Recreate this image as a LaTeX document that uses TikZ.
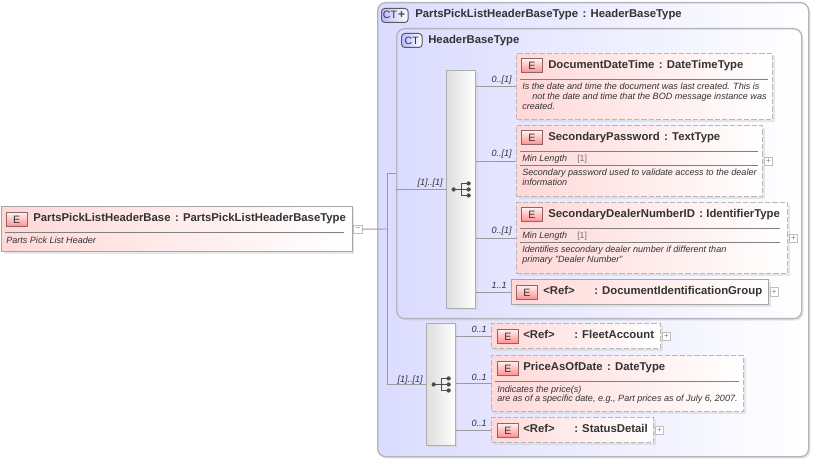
\documentclass[tikz,border=0pt]{standalone}
\usepackage{fontspec}
\setmainfont{Liberation Sans}
\usepackage{xcolor}
\usepackage{tikz}
\usetikzlibrary{calc}
\usetikzlibrary{shadows}
\definecolor{elpink}{HTML}{FFD8D8}
\definecolor{ctblue}{HTML}{DBDBFF}
\definecolor{framegray}{HTML}{B4B4BE}
\definecolor{inkgray}{HTML}{333333}
\definecolor{linegray}{HTML}{9A9A9A}
\tikzset{
  boxshadow/.style={drop shadow={shadow xshift=1.5pt, shadow yshift=-1.5pt, fill=black!18}},
  ctframe/.style={draw=framegray, line width=1pt, rounded corners=6pt, left color=ctblue, right color=white, boxshadow, inner sep=0pt, anchor=north west},
  elfirm/.style={draw=black!35, line width=0.8pt, left color=elpink, right color=white, boxshadow, inner sep=0pt, anchor=north west},
  elopt/.style={elfirm, draw=black!28, line width=1pt, dash pattern=on 4pt off 1.5pt},
  seqblock/.style={draw=linegray!80, line width=0.7pt, left color=black!13, right color=white, boxshadow, inner sep=0pt, anchor=north west},
  ebadge/.style={draw=red!25!black!60, line width=0.7pt, bottom color=red!45!white, top color=red!6!white, minimum width=15.5pt, minimum height=10.5pt, inner sep=0pt, font=\fontsize{8}{8}\selectfont, text=inkgray, anchor=north west},
  ctbadge/.style={draw=black!65, line width=0.7pt, rounded corners=2.5pt, left color=ctblue!85!blue, right color=white, minimum height=10.5pt, inner sep=0pt, font=\fontsize{8}{8}\selectfont, text=inkgray, anchor=north west},
  eltitle/.style={inner sep=0pt, anchor=base west, text=inkgray, font=\fontsize{8.5}{10}\selectfont\bfseries},
  eldescr/.style={inner sep=0pt, anchor=base west, text=inkgray, align=left, font=\fontsize{6.8}{7.5}\selectfont\itshape},
  facetval/.style={inner sep=0pt, anchor=base west, text=black!55, font=\fontsize{6.6}{7.5}\selectfont},
  cardlabel/.style={inner sep=0pt, anchor=base east, text=inkgray, font=\fontsize{6.8}{7.5}\selectfont\itshape},
  togglebox/.style={draw=black!25, fill=white, line width=0.5pt, minimum size=6.3pt, inner sep=0pt, anchor=west, xshift=0.5pt, text=black!50, font=\fontsize{6}{6}\selectfont},
  conn/.style={draw=linegray, line width=0.7pt},
  sepline/.style={draw=black!50, line width=0.5pt},
  pics/seqicon/.style={code={
    \draw[black!70, line width=0.6pt] (-7.5,0) -- (0,0) (0,-6) -- (0,6) (0,-6) -- (7.5,-6) (0,0) -- (7.5,0) (0,6) -- (7.5,6);
    \fill[black!70] (-7.5,0) circle (1.6pt);
    \foreach \dy in {-6,0,6} \fill[black!70] (7.5,\dy) circle (1.6pt);
  }}
}
\newcommand{\reftitle}[1]{\makebox[38.25pt][l]{<Ref>}: #1}
\begin{document}
\begin{tikzpicture}[x=0.75pt, y=-0.75pt]
\useasboundingbox (0,0) rectangle (813,459);

% complex type frames
\node [ctframe, minimum width=323.25pt, minimum height=340.5pt] (outer) at (377,2) {};
\node [ctframe, minimum width=303.75pt, minimum height=217.5pt] (hdr) at (396,28) {};
\node [ctbadge, minimum width=20pt] (ctouter) at (381,8) {};
\node [inner sep=0pt, text=inkgray, font=\fontsize{8}{8}\selectfont] (ctoutertxt) at (390,15) {CT};
\node [inner sep=0pt, text=black!70, font=\fontsize{9}{9}\selectfont\bfseries] (ctoutermark) at (401.5,15) {+};
\node [eltitle] (outertitle) at (415,17.5) {PartsPickListHeaderBaseType\hspace{1pt} : HeaderBaseType};
\node [ctbadge, minimum width=15.5pt] (cthdr) at (401,33) {CT};
\node [eltitle] (hdrtitle) at (428,43.5) {HeaderBaseType};

% root element
\node [elfirm, minimum width=263pt, minimum height=34pt] (root) at (1,206) {};
\node [ebadge] (rootbadge) at (6,212.5) {E};
\node [eltitle] (roottitle) at (33,221.5) {PartsPickListHeaderBase\hspace{1pt} : PartsPickListHeaderBaseType};
\draw [sepline] (5,232) -- (344,232);
\node [eldescr] (rootdescr) at (6,243.5) {Parts Pick List Header};
\node [togglebox] (rootminus) at (root.east) {−};

% sequence blocks
\node [seqblock, minimum width=22pt, minimum height=178.5pt] (seqa) at (446,70) {};
\node [seqblock, minimum width=22pt, minimum height=91.5pt] (seqb) at (426,323) {};
\pic at (seqa.center) {seqicon};
\pic at (seqb.center) {seqicon};

% elements of first sequence
\node [elopt, minimum width=192pt, minimum height=49.5pt] (datetime) at (516,53) {};
\node [ebadge] (datetimebadge) at (521,58.5) {E};
\node [eltitle] (datetimetitle) at (548,68.5) {DocumentDateTime\hspace{1pt} : DateTimeType};
\draw [sepline] (520,79) -- (768,79);
\node [eldescr] (datetimedescr) at (522,90) {Is the date and time the document was last created. This is};
\node [eldescr] (datetimedescrb) at (532,100) {not the date and time that the BOD message instance was};
\node [eldescr] (datetimedescrc) at (522,110) {created.};

\node [elopt, minimum width=184.5pt, minimum height=53.25pt] (password) at (516,125) {};
\node [ebadge] (passwordbadge) at (521,130.5) {E};
\node [eltitle] (passwordtitle) at (548,140.5) {SecondaryPassword\hspace{1pt} : TextType};
\draw [sepline] (520,151.5) -- (758,151.5);
\node [eldescr] (passwordfacet) at (522,162) {Min Length};
\node [facetval] (passwordval) at (577,162) {[1]};
\draw [sepline] (520,165.5) -- (758,165.5);
\node [eldescr] (passworddescr) at (522,176) {Secondary password used to validate access to the dealer};
\node [eldescr] (passworddescrb) at (522,186) {information};
\node [togglebox] (passwordplus) at (password.east) {+};

\node [elopt, minimum width=203.25pt, minimum height=53.25pt] (dealer) at (516,202) {};
\node [ebadge] (dealerbadge) at (521,207.5) {E};
\node [eltitle] (dealertitle) at (548,217.5) {SecondaryDealerNumberID\hspace{1pt} : IdentifierType};
\draw [sepline] (520,228.5) -- (780,228.5);
\node [eldescr] (dealerfacet) at (522,239) {Min Length};
\node [facetval] (dealerval) at (577,239) {[1]};
\draw [sepline] (520,242.5) -- (780,242.5);
\node [eldescr] (dealerdescr) at (522,253) {Identifies secondary dealer number if different than};
\node [eldescr] (dealerdescrb) at (522,263) {primary "Dealer Number"};
\node [togglebox] (dealerplus) at (dealer.east) {+};

\node [elfirm, minimum width=192.75pt, minimum height=18.75pt] (docid) at (511,279) {};
\node [ebadge] (docidbadge) at (516,285) {E};
\node [eltitle] (docidtitle) at (543,294.5) {\reftitle{DocumentIdentificationGroup}};
\node [togglebox] (docidplus) at (docid.east) {+};

% elements of second sequence
\node [elopt, minimum width=126.75pt, minimum height=18.75pt] (fleet) at (491,323) {};
\node [ebadge] (fleetbadge) at (497,329) {E};
\node [eltitle] (fleettitle) at (523,338.5) {\reftitle{FleetAccount}};
\node [togglebox] (fleetplus) at (fleet.east) {+};

\node [elopt, minimum width=189pt, minimum height=42pt] (price) at (491,355) {};
\node [ebadge] (pricebadge) at (497,361) {E};
\node [eltitle] (pricetitle) at (523,370.5) {PriceAsOfDate\hspace{1pt} : DateType};
\draw [sepline] (495,381) -- (739,381);
\node [eldescr] (pricedescr) at (497,392) {Indicates the price(s)};
\node [eldescr] (pricedescrb) at (497,401.5) {are as of a specific date, e.g., Part prices as of July 6, 2007.};

\node [elopt, minimum width=121.5pt, minimum height=18.75pt] (status) at (491,417) {};
\node [ebadge] (statusbadge) at (497,423) {E};
\node [eltitle] (statustitle) at (523,432.5) {\reftitle{StatusDetail}};
\node [togglebox] (statusplus) at (status.east) {+};

% connectors
\coordinate (forkmid) at (387,229);
\coordinate (forktop) at (387,173);
\coordinate (forkbot) at (387,384);
\draw [conn] (rootminus.east) -- (forkmid);
\draw [conn] (forktop) -- (forkbot);
\draw [conn] (forktop) -- (hdr.west |- forktop);
\draw [conn] (hdr.west |- seqa.west) -- (seqa.west);
\draw [conn] (forkbot) -- (seqb.west |- forkbot);
\draw [conn] (seqa.east |- datetime.west) -- (datetime.west);
\draw [conn] (seqa.east |- password.west) -- (password.west);
\draw [conn] (seqa.east |- dealer.west) -- (dealer.west);
\draw [conn] (seqa.east |- docid.west) -- (docid.west);
\draw [conn] (seqb.east |- fleet.west) -- (fleet.west);
\draw [conn] (seqb.east |- price.west) -- (price.west);
\draw [conn] (seqb.east |- status.west) -- (status.west);

% cardinalities
\node [cardlabel] (cardseqa) at (443,186) {[1]..[1]};
\node [cardlabel] (cardseqb) at (423,382) {[1]..[1]};
\node [cardlabel] (carddatetime) at (512,83) {0..[1]};
\node [cardlabel] (cardpassword) at (512,157) {0..[1]};
\node [cardlabel] (carddealer) at (512,234) {0..[1]};
\node [cardlabel] (carddocid) at (507,289) {1..1};
\node [cardlabel] (cardfleet) at (487,332) {0..1};
\node [cardlabel] (cardprice) at (487,380) {0..1};
\node [cardlabel] (cardstatus) at (487,426) {0..1};
\end{tikzpicture}
\end{document}
